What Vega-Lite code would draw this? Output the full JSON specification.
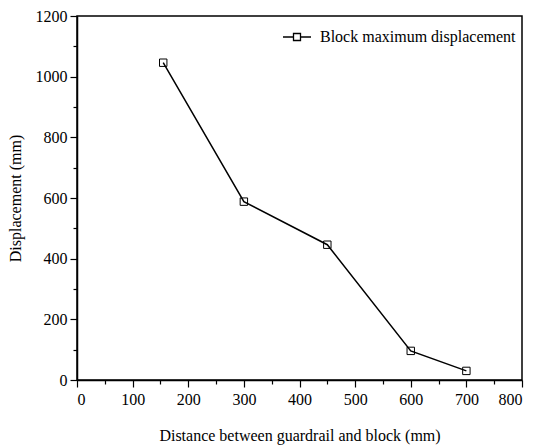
{
  "$schema": "https://vega.github.io/schema/vega-lite/v6.json",
  "width": 445,
  "height": 364,
  "autosize": {"type": "none"},
  "padding": {"left": 77, "top": 16, "right": 14, "bottom": 68},
  "background": "white",
  "config": {
    "font": "Liberation Serif",
    "view": {"stroke": "black", "strokeWidth": 1.5},
    "axis": {
      "grid": false,
      "domainColor": "black",
      "domainWidth": 1.5,
      "tickColor": "black",
      "tickWidth": 1.2,
      "labelColor": "black",
      "labelFont": "Liberation Serif",
      "labelFontSize": 16,
      "titleFont": "Liberation Serif",
      "titleFontSize": 16,
      "titleFontWeight": "normal",
      "titleColor": "black"
    }
  },
  "data": {
    "values": [
      {"distance": 155, "displacement": 1046, "series": "Block maximum displacement"},
      {"distance": 300, "displacement": 588, "series": "Block maximum displacement"},
      {"distance": 450, "displacement": 446, "series": "Block maximum displacement"},
      {"distance": 600, "displacement": 96, "series": "Block maximum displacement"},
      {"distance": 700, "displacement": 30, "series": "Block maximum displacement"}
    ]
  },
  "layer": [
    {
      "mark": {"type": "line", "strokeWidth": 1.5},
      "encoding": {
        "x": {
          "field": "distance", "type": "quantitative",
          "scale": {"domain": [0, 800], "nice": false},
          "axis": {"values": [0, 100, 200, 300, 400, 500, 600, 700, 800], "format": "d", "tickSize": 7, "labelPadding": 4, "title": "Distance between guardrail and block (mm)", "titlePadding": 20, "orient": "bottom"}
        },
        "y": {
          "field": "displacement", "type": "quantitative",
          "scale": {"domain": [0, 1200], "nice": false},
          "axis": {"values": [0, 200, 400, 600, 800, 1000, 1200], "format": "d", "tickSize": 7, "labelPadding": 3, "title": "Displacement (mm)", "titlePadding": 12, "orient": "left"}
        },
        "color": {
          "field": "series", "type": "nominal",
          "scale": {"range": ["black"]},
          "legend": {
            "title": null,
            "orient": "top-right",
            "offset": 6,
            "labelFontSize": 16,
            "labelFont": "Liberation Serif",
            "labelColor": "black",
            "labelLimit": 0,
            "labelOffset": 8,
            "symbolType": "M-1,0H-0.25M0.25,0H1M-0.25,-0.25H0.25V0.25H-0.25Z",
            "symbolSize": 784,
            "symbolStrokeWidth": 1.3,
            "symbolFillColor": "transparent",
            "symbolStrokeColor": "black"
          }
        }
      }
    },
    {
      "mark": {"type": "point", "shape": "square", "filled": false, "size": 55, "color": "black", "strokeWidth": 1, "opacity": 1},
      "encoding": {
        "x": {"field": "distance", "type": "quantitative", "axis": null},
        "y": {"field": "displacement", "type": "quantitative", "axis": null}
      }
    },
    {
      "mark": {"type": "point", "opacity": 0},
      "encoding": {
        "x": {
          "field": "distance", "type": "quantitative",
          "scale": {"domain": [0, 800], "nice": false},
          "axis": {"orient": "bottom", "values": [50, 150, 250, 350, 450, 550, 650, 750], "tickSize": 4, "labels": false, "domain": false, "title": null}
        },
        "y": {
          "field": "displacement", "type": "quantitative",
          "scale": {"domain": [0, 1200], "nice": false},
          "axis": {"orient": "left", "values": [100, 300, 500, 700, 900, 1100], "tickSize": 4, "labels": false, "domain": false, "title": null}
        }
      }
    }
  ],
  "resolve": {"axis": {"x": "independent", "y": "independent"}}
}
